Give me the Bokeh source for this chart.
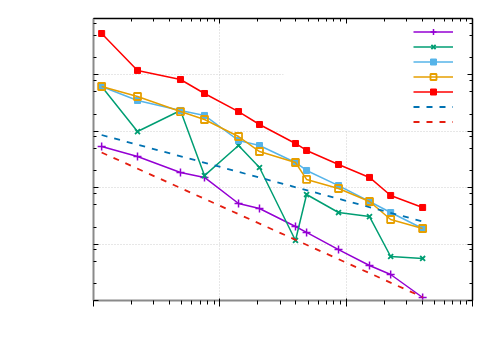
import math
from bokeh.plotting import figure
from bokeh.models import (LogAxis, FixedTicker, CustomJSTickFormatter, Legend,
                          LegendItem, BoxAnnotation)
from bokeh.embed import file_html
from bokeh.resources import INLINE

# ---- data ----
x_vals = [1.16, 2.23, 4.88, 7.56, 14.06, 20.6, 39.7, 48.6, 87.0, 153.0, 225.0, 403.0]

purple_y = [5.37e-3, 3.57e-3, 1.86e-3, 1.52e-3, 5.25e-4, 4.28e-4, 2.05e-4, 1.61e-4,
            8.0e-5, 4.18e-5, 2.89e-5, 1.13e-5]
green_y = [6.23e-2, 9.9e-3, 2.34e-2, 1.64e-3, 5.6e-3, 2.28e-3, 1.16e-4, 7.57e-4,
           3.63e-4, 3.08e-4, 6.03e-5, 5.56e-5]
skyblue_y = [6.23e-2, 3.52e-2, 2.34e-2, 1.91e-2, 6.87e-3, 5.6e-3, 2.8e-3, 2.02e-3,
             1.09e-3, 5.69e-4, 3.63e-4, 1.89e-4]
orange_y = [6.23e-2, 4.14e-2, 2.24e-2, 1.62e-2, 8.09e-3, 4.38e-3, 2.8e-3, 1.40e-3,
            9.68e-4, 5.69e-4, 2.73e-4, 1.89e-4]
red_y = [0.542, 0.120, 8.28e-2, 4.68e-2, 2.24e-2, 1.32e-2, 6.08e-3, 4.57e-3,
         2.58e-3, 1.52e-3, 7.28e-4, 4.46e-4]

ref_x = [1.16, 403.0]
ref_blue_y = [8.6e-3, 2.52e-4]
ref_red_y = [4.21e-3, 1.15e-5]

# axis ranges / ticks
X_RANGE = (1, 1000)
Y_RANGE = (1e-5, 1)
x_major = [1, 10, 100, 1000]
x_minor = [m * d for d in [1, 10, 100] for m in range(2, 10)]
y_major = [1e-5, 1e-4, 1e-3, 1e-2, 1e-1, 1]
y_minor = [m * d for d in [1e-5, 1e-4, 1e-3, 1e-2, 1e-1] for m in (2, 5, 8)]

# opaque key area (hides the grid under the key)
KEY_LEFT_X = 10 ** 1.504
KEY_BOTTOM_Y = 10 ** -1.975

p = figure(width=492, height=342, x_axis_type="log", y_axis_type="log",
           x_range=X_RANGE, y_range=Y_RANGE, output_backend="svg",
           toolbar_location=None, min_border_left=93, min_border_right=20,
           min_border_top=18, min_border_bottom=42)
p.outline_line_color = None
p.background_fill_color = "white"

blank = CustomJSTickFormatter(code="return ''")
xt = FixedTicker(ticks=x_major, minor_ticks=x_minor)
yt = FixedTicker(ticks=y_major, minor_ticks=y_minor)

p.xaxis.ticker = xt
p.yaxis.ticker = yt
for ax in (p.xaxis[0], p.yaxis[0]):
    ax.formatter = blank
    ax.axis_line_color = "#8a8a8a"
    ax.axis_line_width = 2

top = LogAxis(ticker=xt, formatter=blank)
right = LogAxis(ticker=yt, formatter=blank)
p.add_layout(top, "above")
p.add_layout(right, "right")
for ax in (top, right):
    ax.axis_line_color = "black"
    ax.axis_line_width = 1.5

for ax in (p.xaxis[0], p.yaxis[0], top, right):
    ax.major_tick_in = 5
    ax.major_tick_out = 0
    ax.minor_tick_in = 3
    ax.minor_tick_out = 0
    ax.major_tick_line_color = "black"
    ax.minor_tick_line_color = "black"
    ax.major_label_standoff = 0

for g in (p.xgrid[0], p.ygrid[0]):
    g.grid_line_color = "#cfcfcf"
    g.grid_line_dash = "1 2"
    g.grid_line_width = 1

box = BoxAnnotation(left=KEY_LEFT_X, bottom=KEY_BOTTOM_Y, fill_color="white",
                    fill_alpha=1.0, line_color=None, level="underlay")
p.add_layout(box)

items = []

l1 = p.line(x_vals, purple_y, line_color="#9400d3", line_width=1.5)
m1 = p.scatter(x_vals, purple_y, marker="cross", size=8, line_color="#9400d3", line_width=1.5)
items.append(LegendItem(label=" ", renderers=[l1, m1]))

l2 = p.line(x_vals, green_y, line_color="#009e73", line_width=1.5)
m2 = p.scatter(x_vals, green_y, marker="x", size=7, line_color="#009e73", line_width=1.8)
items.append(LegendItem(label=" ", renderers=[l2, m2]))

l3 = p.line(x_vals, skyblue_y, line_color="#56b4e9", line_width=1.5)
m3 = p.scatter(x_vals, skyblue_y, marker="square", size=6, line_color="#56b4e9",
               fill_color="#56b4e9")
items.append(LegendItem(label=" ", renderers=[l3, m3]))

l4 = p.line(x_vals, orange_y, line_color="#e69f00", line_width=1.5)
m4 = p.scatter(x_vals, orange_y, marker="square", size=7, line_color="#e69f00",
               fill_color=None, line_width=1.8)
items.append(LegendItem(label=" ", renderers=[l4, m4]))

l5 = p.line(x_vals, red_y, line_color="#ff0000", line_width=1.5)
m5 = p.scatter(x_vals, red_y, marker="square", size=6, line_color="#ff0000",
               fill_color="#ff0000")
items.append(LegendItem(label=" ", renderers=[l5, m5]))

l6 = p.line(ref_x, ref_blue_y, line_color="#0072b2", line_width=1.8, line_dash="6 7")
items.append(LegendItem(label=" ", renderers=[l6]))

l7 = p.line(ref_x, ref_red_y, line_color="#e51e10", line_width=1.8, line_dash="6 7")
items.append(LegendItem(label=" ", renderers=[l7]))

legend = Legend(items=items, location=(320, 171.5), glyph_width=40, glyph_height=15,
                label_height=15, label_width=0, label_standoff=0, spacing=0,
                padding=0, margin=0, border_line_color=None,
                background_fill_alpha=0, label_text_font_size="1px")
p.add_layout(legend, "center")

open("out.html", "w").write(file_html(p, INLINE))
